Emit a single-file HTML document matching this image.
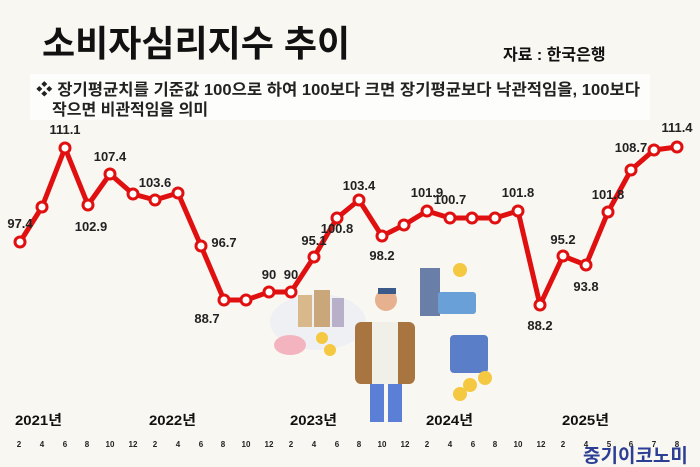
<!DOCTYPE html>
<html><head><meta charset="utf-8"><style>
body{margin:0;background:#f9f7f2;}
svg{display:block;font-family:"Liberation Sans","Noto Sans CJK KR",sans-serif;}
</style></head><body>
<svg width="700" height="467" viewBox="0 0 700 467">
<rect width="700" height="467" fill="#f9f7f2"/>
<text x="42" y="56" font-size="36" font-weight="bold" fill="#111">소비자심리지수 추이</text>
<text x="503" y="60" font-size="16" font-weight="bold" fill="#111">자료 : 한국은행</text>
<rect x="30" y="74" width="620" height="46" fill="#fdfdfb"/>
<text x="36" y="95" font-size="16" font-weight="bold" fill="#222" textLength="604" lengthAdjust="spacingAndGlyphs">❖ 장기평균치를 기준값 100으로 하여 100보다 크면 장기평균보다 낙관적임을, 100보다</text>
<text x="52" y="115" font-size="16" font-weight="bold" fill="#222">작으면 비관적임을 의미</text>
<!-- illustration approximations -->
<ellipse cx="318" cy="322" rx="48" ry="28" fill="#eef0f4"/>
<rect x="298" y="295" width="14" height="32" fill="#d9b98c"/><rect x="314" y="290" width="16" height="37" fill="#c9a77a"/><rect x="332" y="298" width="12" height="29" fill="#b8b0c8"/>
<ellipse cx="290" cy="345" rx="16" ry="10" fill="#f3b4c0"/>
<circle cx="322" cy="338" r="6" fill="#f5c842"/><circle cx="330" cy="350" r="6" fill="#f5c842"/>
<circle cx="386" cy="300" r="11" fill="#e7b08e"/><rect x="378" y="288" width="18" height="6" fill="#3b5a8a"/>
<rect x="355" y="322" width="60" height="62" rx="6" fill="#a8743f"/>
<rect x="372" y="322" width="26" height="62" fill="#f0efe8"/>
<rect x="370" y="384" width="14" height="38" fill="#5b7fd6"/><rect x="388" y="384" width="14" height="38" fill="#5b7fd6"/>
<rect x="420" y="268" width="20" height="48" fill="#6a7fa8"/><rect x="438" y="292" width="38" height="22" rx="3" fill="#6aa0d8"/>
<circle cx="460" cy="270" r="7" fill="#f5c842"/>
<rect x="450" y="335" width="38" height="38" rx="4" fill="#5a7fc8"/>
<circle cx="470" cy="385" r="7" fill="#f5c842"/><circle cx="485" cy="378" r="7" fill="#f5c842"/><circle cx="460" cy="394" r="7" fill="#f5c842"/>
<polyline fill="none" stroke="#e01010" stroke-width="5" stroke-linejoin="round" points="20,242 42,207 65,148 88,205 110,174 133,194 155,200 178,193 201,246 224,300 246,300 269,292 291,292 314,257 337,218 359,200 382,236 404,225 427,211 450,218 472,218 495,218 518,211 540,305 563,256 586,265 608,212 631,170 654,150 677,147"/>
<g fill="#fff" stroke="#e01010" stroke-width="3">
<circle cx="20" cy="242" r="5"/><circle cx="42" cy="207" r="5"/><circle cx="65" cy="148" r="5"/><circle cx="88" cy="205" r="5"/><circle cx="110" cy="174" r="5"/><circle cx="133" cy="194" r="5"/><circle cx="155" cy="200" r="5"/><circle cx="178" cy="193" r="5"/><circle cx="201" cy="246" r="5"/><circle cx="224" cy="300" r="5"/><circle cx="246" cy="300" r="5"/><circle cx="269" cy="292" r="5"/><circle cx="291" cy="292" r="5"/><circle cx="314" cy="257" r="5"/><circle cx="337" cy="218" r="5"/><circle cx="359" cy="200" r="5"/><circle cx="382" cy="236" r="5"/><circle cx="404" cy="225" r="5"/><circle cx="427" cy="211" r="5"/><circle cx="450" cy="218" r="5"/><circle cx="472" cy="218" r="5"/><circle cx="495" cy="218" r="5"/><circle cx="518" cy="211" r="5"/><circle cx="540" cy="305" r="5"/><circle cx="563" cy="256" r="5"/><circle cx="586" cy="265" r="5"/><circle cx="608" cy="212" r="5"/><circle cx="631" cy="170" r="5"/><circle cx="654" cy="150" r="5"/><circle cx="677" cy="147" r="5"/>
</g>
<g font-size="13" font-weight="bold" fill="#222" text-anchor="middle">
<text x="20" y="228">97.4</text><text x="65" y="134">111.1</text><text x="110" y="161">107.4</text><text x="91" y="231">102.9</text><text x="155" y="187">103.6</text><text x="224" y="247">96.7</text><text x="207" y="323">88.7</text><text x="269" y="279">90</text><text x="291" y="279">90</text><text x="314" y="245">95.1</text><text x="337" y="233">100.8</text><text x="359" y="190">103.4</text><text x="382" y="260">98.2</text><text x="427" y="197">101.9</text><text x="450" y="204">100.7</text><text x="518" y="197">101.8</text><text x="540" y="330">88.2</text><text x="563" y="244">95.2</text><text x="586" y="291">93.8</text><text x="608" y="199">101.8</text><text x="631" y="152">108.7</text><text x="677" y="132">111.4</text>
</g>
<g font-size="14" font-weight="bold" fill="#111">
<text x="15" y="425" textLength="47" lengthAdjust="spacingAndGlyphs">2021년</text><text x="149" y="425" textLength="47" lengthAdjust="spacingAndGlyphs">2022년</text><text x="290" y="425" textLength="47" lengthAdjust="spacingAndGlyphs">2023년</text><text x="426" y="425" textLength="47" lengthAdjust="spacingAndGlyphs">2024년</text><text x="562" y="425" textLength="47" lengthAdjust="spacingAndGlyphs">2025년</text>
</g>
<g font-size="8" font-weight="bold" fill="#222" text-anchor="middle">
<text x="19" y="447">2</text><text x="42" y="447">4</text><text x="65" y="447">6</text><text x="87" y="447">8</text><text x="110" y="447">10</text><text x="133" y="447">12</text><text x="155" y="447">2</text><text x="178" y="447">4</text><text x="201" y="447">6</text><text x="223" y="447">8</text><text x="246" y="447">10</text><text x="269" y="447">12</text><text x="291" y="447">2</text><text x="314" y="447">4</text><text x="337" y="447">6</text><text x="359" y="447">8</text><text x="382" y="447">10</text><text x="405" y="447">12</text><text x="427" y="447">2</text><text x="450" y="447">4</text><text x="473" y="447">6</text><text x="495" y="447">8</text><text x="518" y="447">10</text><text x="541" y="447">12</text><text x="563" y="447">2</text><text x="586" y="447">4</text><text x="609" y="447">5</text><text x="631" y="447">6</text><text x="654" y="447">7</text><text x="677" y="447">8</text>
</g>
<text x="583" y="462" font-size="19" font-weight="bold" fill="#2d3f94">중기이코노미</text>
</svg>
</body></html>
